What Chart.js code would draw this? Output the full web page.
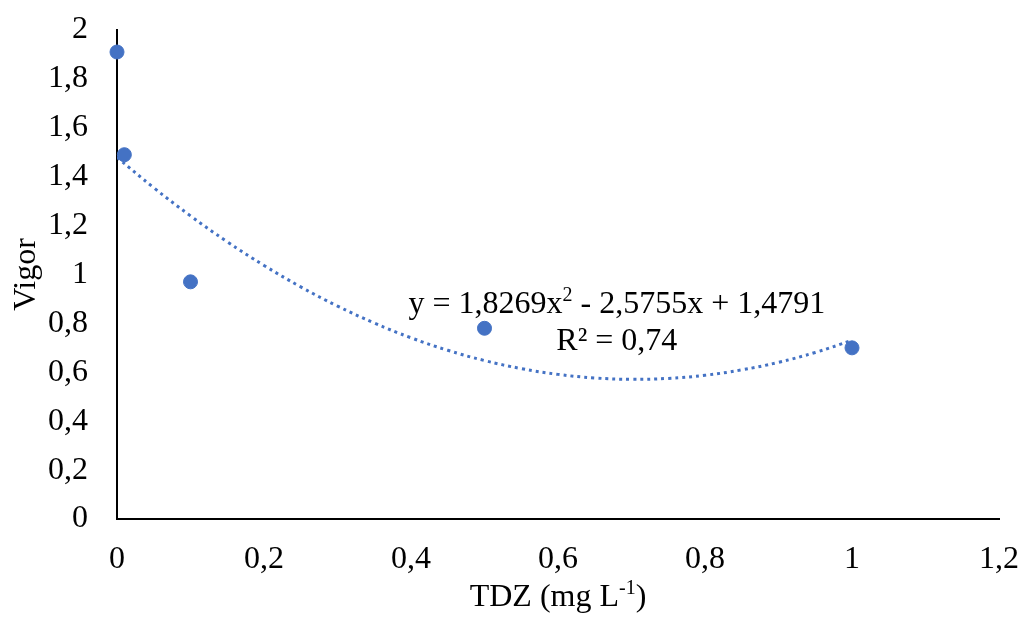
<!DOCTYPE html>
<html>
<head>
<meta charset="utf-8">
<script src="https://cdn.jsdelivr.net/npm/chart.js@4.4.0/dist/chart.umd.min.js"></script>
<style>
  body { margin: 0; background: #fff; }
  #wrap { width: 1022px; height: 617px; }
</style>
</head>
<body>
<div id="wrap"><canvas id="chart" width="1022" height="617"></canvas></div>
<script>
// data
const tdz = [0, 0.01, 0.1, 0.5, 1];
const vigor = [1.91, 1.49, 0.97, 0.78, 0.70];

// trendline shown on the chart: y = a x^2 + b x + c
const trendCoef = [1.8269, -2.5755, 1.4791];
const trendX = [0, 0.05, 0.1, 0.15, 0.2, 0.25, 0.3, 0.35, 0.4, 0.45, 0.5, 0.55, 0.6, 0.65, 0.7, 0.75, 0.8, 0.85, 0.9, 0.95, 1];
const eqLabel = ['y = 1,8269x', '2', ' - 2,5755x + 1,4791'];
const r2Label = 'R² = 0,74';
const eqAnchor = [0.68, 0.843]; // where the equation sits (data units)

const xTicks = ['0', '0,2', '0,4', '0,6', '0,8', '1', '1,2'];
const yTicks = ['0', '0,2', '0,4', '0,6', '0,8', '1', '1,2', '1,4', '1,6', '1,8', '2'];

const blue = '#4472C4';
const serif = "'Liberation Serif', 'Times New Roman', serif";
const fs = 32;

let trendPts = trendX.map(x => ({x: x, y: trendCoef[0]*x*x + trendCoef[1]*x + trendCoef[2]}));
let pts = tdz.map((x, i) => ({x: x, y: vigor[i]}));

// titles + equation text
const textPlugin = {
  id: 'texts',
  afterDraw(chart) {
    let ctx = chart.ctx;
    let ca = chart.chartArea;
    ctx.save();
    ctx.fillStyle = '#000';
    ctx.font = fs + 'px ' + serif;

    // y title
    ctx.save();
    ctx.translate(27, (ca.top + ca.bottom) / 2);
    ctx.rotate(-Math.PI / 2);
    ctx.textAlign = 'center';
    ctx.textBaseline = 'middle';
    ctx.fillText('Vigor', 0, 0);
    ctx.restore();

    // x title with superscript
    drawSup(ctx, ['TDZ (mg L', '-1', ')'], (ca.left + ca.right) / 2, 606);

    // equation
    let xs = chart.scales.x, ys = chart.scales.y;
    let ex = xs.getPixelForValue(eqAnchor[0]);
    let ey = ys.getPixelForValue(eqAnchor[1]);
    drawSup(ctx, eqLabel, ex, ey);
    ctx.font = fs + 'px ' + serif;
    ctx.textAlign = 'center';
    ctx.textBaseline = 'alphabetic';
    ctx.fillText(r2Label, ex, ey + 37);
    ctx.restore();
  }
};

// parts: [normal, superscript, normal], centred at cx, baseline by
function drawSup(ctx, parts, cx, by) {
  let big = fs + 'px ' + serif, small = Math.round(fs * 0.62) + 'px ' + serif;
  ctx.textAlign = 'left';
  ctx.textBaseline = 'alphabetic';
  ctx.font = big;
  let w0 = ctx.measureText(parts[0]).width;
  let w2 = ctx.measureText(parts[2]).width;
  ctx.font = small;
  let w1 = ctx.measureText(parts[1]).width;
  let x = cx - (w0 + w1 + w2) / 2;
  ctx.font = big;
  ctx.fillText(parts[0], x, by);
  ctx.font = small;
  ctx.fillText(parts[1], x + w0, by - fs * 0.38);
  ctx.font = big;
  ctx.fillText(parts[2], x + w0 + w1, by);
}

new Chart('chart', {
  type: 'scatter',
  data: {
    datasets: [{
      data: pts,
      backgroundColor: blue,
      borderColor: blue,
      pointRadius: 7,
      pointHoverRadius: 7,
      clip: false,
      order: 1
    }, {
      type: 'line',
      data: trendPts,
      borderColor: blue,
      borderWidth: 3,
      borderDash: [3, 4],
      pointRadius: 0,
      tension: 0.4,
      fill: false,
      order: 2
    }]
  },
  options: {
    responsive: false,
    animation: false,
    layout: { padding: { top: 30, right: 23, left: 0, bottom: 0 } },
    plugins: { legend: { display: false }, tooltip: { enabled: false } },
    scales: {
      x: {
        type: 'linear', min: 0, max: 1.2,
        grid: { display: false, drawTicks: false },
        border: { color: '#000', width: 2 },
        afterFit(s) { s.height = 98; s.paddingRight = 0; s.paddingLeft = 0; },
        afterBuildTicks(s) { s.ticks = xTicks.map((t, i) => ({value: i * 0.2})); },
        ticks: {
          padding: 21, color: '#000', maxRotation: 0,
          font: { family: serif, size: fs },
          callback: (v, i) => xTicks[i]
        }
      },
      y: {
        type: 'linear', min: 0, max: 2,
        grid: { display: false, drawTicks: false },
        border: { color: '#000', width: 2 },
        afterFit(s) { s.width = 117; s.paddingTop = 0; s.paddingBottom = 0; },
        afterBuildTicks(s) { s.ticks = yTicks.map((t, i) => ({value: i * 0.2})); },
        ticks: {
          padding: 29, color: '#000',
          font: { family: serif, size: fs },
          callback: (v, i) => yTicks[i]
        }
      }
    }
  },
  plugins: [textPlugin]
});
</script>
</body>
</html>
